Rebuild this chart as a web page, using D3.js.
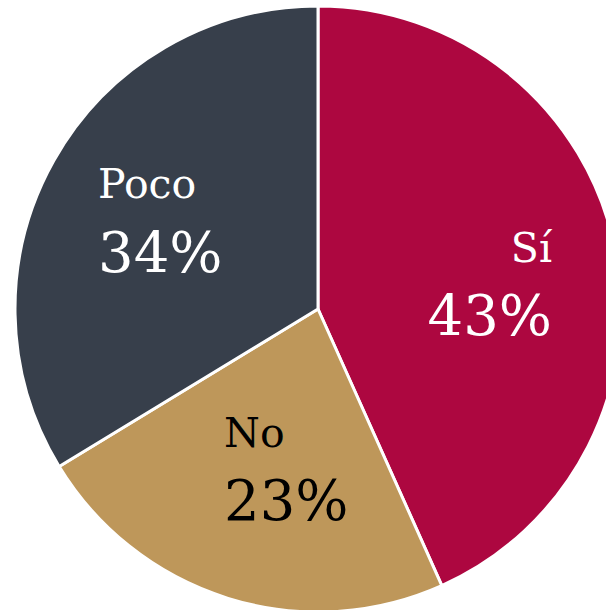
<!DOCTYPE html>
<html><head><meta charset="utf-8">
<script src="https://cdn.jsdelivr.net/npm/d3@7"></script>
<style>body{margin:0;background:#fff}svg{display:block}</style>
</head><body>
<script>
const categories = ["Sí", "No", "Poco"];
const values = [43.3, 23.0, 33.7];
const labels = ["43%", "23%", "34%"];
const colors = ["#AD0740", "#BE975A", "#373F4B"];
const textColors = ["#ffffff", "#000000", "#ffffff"];

const W = 606, H = 610;
const cx = 318, cy = 309, R = 303;
const svg = d3.select("body").append("svg").attr("width", W).attr("height", H);
const g = svg.append("g").attr("transform", `translate(${cx},${cy})`);
const pie = d3.pie().sort(null).value(d => d)(values);
const arc = d3.arc().innerRadius(0).outerRadius(R);
g.selectAll("path").data(pie).join("path")
  .attr("d", arc).attr("fill", (d,i) => colors[i])
  .attr("stroke", "#fff").attr("stroke-width", 3).attr("stroke-linejoin","round");

const place = [
  {x: 552-cx, y1: 262-cy, y2: 335-cy, anchor: "end"},
  {x: 224-cx, y1: 447-cy, y2: 520-cy, anchor: "start"},
  {x: 98-cx, y1: 198-cy, y2: 272-cy, anchor: "start"}
];
const font = "'DejaVu Serif', serif";
categories.forEach((c, i) => {
  const p = place[i];
  g.append("text").attr("x", p.x).attr("y", p.y1).attr("text-anchor", p.anchor)
    .attr("font-family", font).attr("font-size", 41).attr("fill", textColors[i]).text(c);
  g.append("text").attr("x", p.x).attr("y", p.y2).attr("text-anchor", p.anchor)
    .attr("font-family", font).attr("font-size", 56).attr("fill", textColors[i]).text(labels[i]);
});
</script>
</body></html>
